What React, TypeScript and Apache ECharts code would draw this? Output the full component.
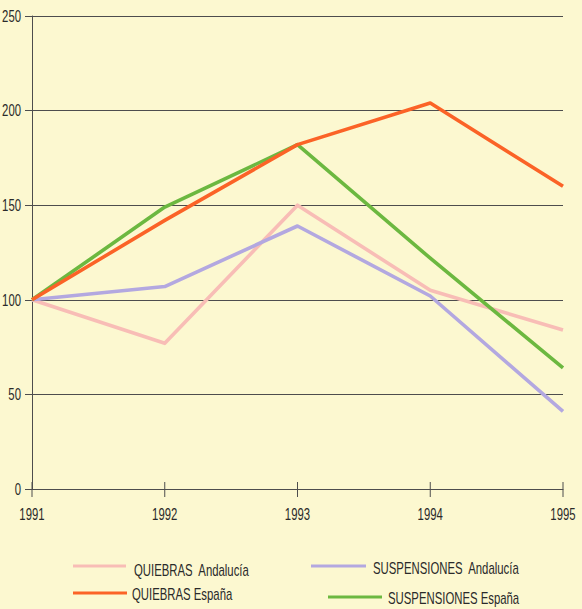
import React, { useEffect, useRef } from "react";
import * as echarts from "echarts";

const years = ["1991", "1992", "1993", "1994", "1995"];
const quiebrasAndalucia = [100, 77, 150, 105, 84];
const quiebrasEspana = [100, 142, 182, 204, 160];
const suspensionesAndalucia = [100, 107, 139, 102, 41];
const suspensionesEspana = [100, 149, 182, 122, 64];
const yTicks = [0, 50, 100, 150, 200, 250];

const FONT = "'Liberation Sans', Arial, sans-serif";
const SX = 0.71;
const C_QA = "#f8bdb6";
const C_QE = "#fb6327";
const C_SA = "#b3a8e0";
const C_SE = "#6cb840";
const AXIS = "#4d4d4d";
const TXT = "#2a2a2a";

export default function App() {
  const ref = useRef<HTMLDivElement>(null);
  useEffect(() => {
    const chart = echarts.init(ref.current!, null, { renderer: "svg" });
    const mk = (name: string, data: number[], color: string, z: number) => ({
      name,
      type: "line",
      data,
      symbol: "none",
      z,
      lineStyle: { color, width: 3.6, join: "round" },
    });
    const txt = (x: number, y: number, text: string, align: string) => ({
      type: "text",
      x,
      y,
      scaleX: SX,
      style: {
        text,
        fill: TXT,
        font: `16px ${FONT}`,
        textAlign: align,
        textVerticalAlign: "middle",
      },
    });
    const legendItem = (x1: number, x2: number, y: number, color: string, text: string, tx: number, ty: number) => [
      { type: "line", shape: { x1, y1: y, x2, y2: y }, style: { stroke: color, lineWidth: 3.2 } },
      txt(tx, ty, text, "left"),
    ];
    chart.setOption({
      animation: false,
      backgroundColor: "#fcf8d0",
      grid: { left: 32, right: 19, top: 16, bottom: 120, containLabel: false },
      xAxis: {
        type: "category",
        data: years,
        boundaryGap: false,
        axisLine: { show: true, lineStyle: { color: AXIS, width: 1 } },
        axisTick: { show: false },
        axisLabel: { show: false },
        splitLine: { show: false },
      },
      yAxis: {
        type: "value",
        min: yTicks[0],
        max: yTicks[yTicks.length - 1],
        interval: 50,
        axisLine: { show: true, lineStyle: { color: AXIS, width: 1 } },
        axisTick: { show: true, length: 7, lineStyle: { color: AXIS } },
        axisLabel: { show: false },
        splitLine: { show: true, lineStyle: { color: AXIS, width: 1 } },
      },
      series: [
        mk("QUIEBRAS Andalucía", quiebrasAndalucia, C_QA, 2),
        mk("SUSPENSIONES Andalucía", suspensionesAndalucia, C_SA, 3),
        mk("SUSPENSIONES España", suspensionesEspana, C_SE, 4),
        mk("QUIEBRAS España", quiebrasEspana, C_QE, 5),
      ],
    });

    const graphics: any[] = [];
    const x0 = chart.convertToPixel({ xAxisIndex: 0 }, 0) as number;
    years.forEach((yr, i) => {
      const p = chart.convertToPixel({ xAxisIndex: 0, yAxisIndex: 0 }, [i, 0]) as number[];
      graphics.push({
        type: "line",
        shape: { x1: p[0], y1: p[1] - 7, x2: p[0], y2: p[1] + 8 },
        style: { stroke: AXIS, lineWidth: 1 },
      });
      graphics.push(txt(p[0], p[1] + 25, yr, "center"));
    });
    yTicks.forEach((v) => {
      const py = chart.convertToPixel({ yAxisIndex: 0 }, v) as number;
      graphics.push(txt(x0 - 11, py, String(v), "right"));
    });
    graphics.push(
      ...legendItem(73, 126, 566, C_QA, "QUIEBRAS  Andalucía", 134, 570),
      ...legendItem(311, 366, 566, C_SA, "SUSPENSIONES  Andalucía", 373, 568),
      ...legendItem(73, 127, 593, C_QE, "QUIEBRAS España", 132, 594),
      ...legendItem(328, 382, 597, C_SE, "SUSPENSIONES España", 388, 598)
    );
    chart.setOption({ graphic: graphics });
    return () => chart.dispose();
  }, []);
  return (
    <div
      ref={ref}
      style={{ position: "fixed", left: 0, top: 0, width: 582, height: 609 }}
    />
  );
}
